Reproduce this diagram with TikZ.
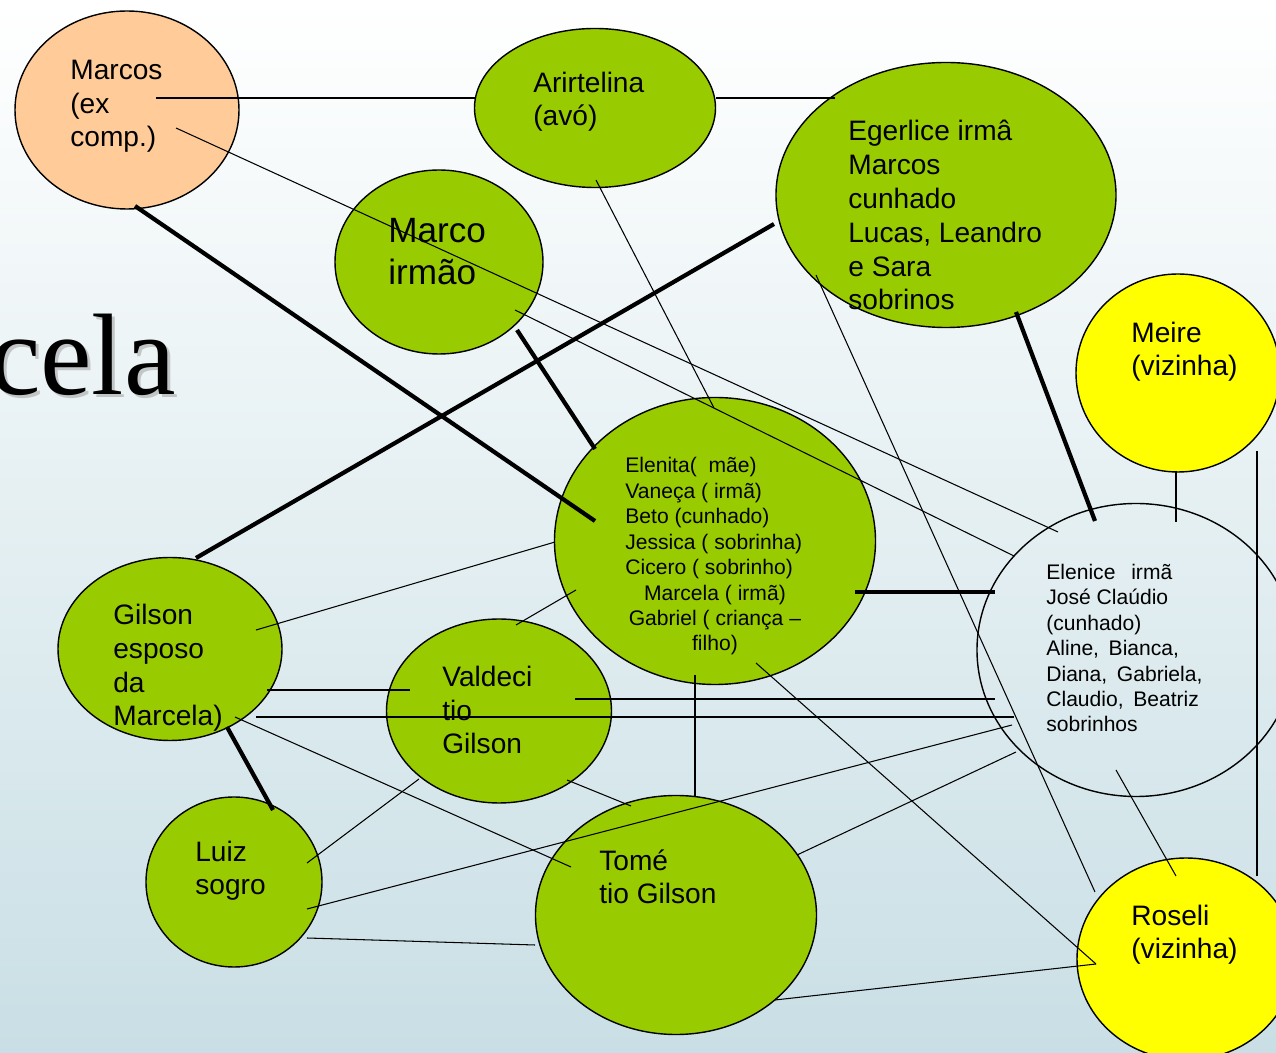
\documentclass[tikz,border=0pt]{standalone}
\usepackage{fontspec}
\setmainfont{Liberation Sans}
\newfontfamily\titlefont{Liberation Serif}
\usetikzlibrary{shapes.geometric, calc}
\definecolor{leafgreen}{HTML}{99CC00}
\definecolor{sunyellow}{HTML}{FFFF00}
\definecolor{peach}{HTML}{FFCC99}
\definecolor{slidebg}{RGB}{201,223,229}
\newcommand{\ctrline}[1]{\makebox[102pt][c]{#1}}

\begin{document}
\begin{tikzpicture}[x=0.02cm, y=-0.02cm,
			person/.style={ellipse, draw=black, line width=0.8pt, inner sep=0pt},
			dims/.style 2 args={minimum width=#1*0.02cm, minimum height=#2*0.02cm},
			txt/.style={anchor=base west, align=left, inner sep=0pt, font=\fontsize{16}{19.3}\selectfont},
			smalltxt/.style={txt, font=\fontsize{12}{14.5}\selectfont},
			link/.style={line width=0.6pt},
			tie/.style={line width=2.4pt}]
			\useasboundingbox (0,0) rectangle (1276,1053);
			\clip (0,0) rectangle (1276,1053);
			\shade[top color=white, bottom color=slidebg] (0,0) rectangle (1276,1053);
			\node[font=\titlefont\fontsize{66}{70}\selectfont, anchor=base east, inner sep=0pt, text=black!40, opacity=.5] (titleShadow) at (179,398) {cela};
			\node[font=\titlefont\fontsize{66}{70}\selectfont, anchor=base east, inner sep=0pt] (title) at (176,395) {cela};
			\node[person, dims={224}{198}, fill=peach] (marcos) at (127,110) {};
			\node[person, dims={241}{159}, fill=leafgreen] (arir) at (595,108) {};
			\node[person, dims={340}{265}, fill=leafgreen] (eger) at (946,195) {};
			\node[person, dims={208}{184}, fill=leafgreen] (marcoI) at (439,262) {};
			\node[person, dims={204}{198}, fill=sunyellow] (meire) at (1178,373) {};
			\node[person, dims={321}{287}, fill=leafgreen] (elenita) at (715,541) {};
			\node[person, dims={318}{293}] (elenice) at (1136,650) {};
			\node[person, dims={224}{183}, fill=leafgreen] (gilson) at (170,649) {};
			\node[person, dims={225}{184}, fill=leafgreen] (valdeci) at (499,711) {};
			\node[person, dims={176}{170}, fill=leafgreen] (luiz) at (234,882) {};
			\node[person, dims={281}{239}, fill=leafgreen] (tome) at (676,915) {};
			\node[person, dims={218}{202}, fill=sunyellow] (roseli) at (1186,959) {};
			\node[txt] (marcosTxt) at (70,147) {Marcos\\(ex\\comp.)};
			\node[txt] (arirTxt) at (533,126) {Arirtelina\\(avó)};
			\node[txt] (egerTxt) at (848,310) {Egerlice irmâ\\Marcos\\cunhado\\Lucas, Leandro\\e Sara\\sobrinos};
			\node[txt, font=\fontsize{20}{24.4}\selectfont] (marcoITxt) at (388,285) {Marco\\irmão};
			\node[txt] (meireTxt) at (1131,376) {Meire\\(vizinha)};
			\node[smalltxt] (elenitaTxt) at (625,651) {Elenita(\ \ mãe)\\Vaneça ( irmã)\\Beto (cunhado)\\Jessica ( sobrinha)\\Cicero ( sobrinho)\\\ctrline{Marcela ( irmã)}\\\ctrline{Gabriel ( criança –}\\\ctrline{filho)}};
			\node[smalltxt] (eleniceTxt) at (1046,732) {Elenice\hspace{9pt}irmã\\José Claúdio\\(cunhado)\\Aline,\hspace{5.5pt}Bianca,\\Diana,\hspace{5.5pt}Gabriela,\\Claudio,\hspace{5.5pt}Beatriz\\sobrinhos};
			\node[txt] (gilsonTxt) at (113,726) {Gilson\\esposo\\da\\Marcela)};
			\node[txt] (valdeciTxt) at (442,754) {Valdeci\\tio\\Gilson};
			\node[txt] (luizTxt) at (195,895) {Luiz\\sogro};
			\node[txt] (tomeTxt) at (599,904) {Tomé\\tio Gilson};
			\node[txt] (roseliTxt) at (1131,959) {Roseli\\(vizinha)};
			\draw[link] ($(marcos)+(29,-12)$) -- ($(arir)+(-120,-10)$);
			\draw[link] ($(arir)+(121,-10)$) -- ($(eger)+(-111,-97)$);
			\draw[link] ($(marcos)+(49,18)$) -- ($(elenice)+(-78,-118)$);
			\draw[tie] ($(marcos)+(8,96)$) -- ($(elenita)+(-120,-20)$);
			\draw[tie] ($(eger)+(-172,29)$) -- ($(gilson)+(26,-91)$);
			\draw[tie] ($(marcoI)+(78,68)$) -- ($(elenita)+(-120,-92)$);
			\draw[link] ($(marcoI)+(76,48)$) -- ($(elenice)+(-122,-94)$);
			\draw[link] ($(arir)+(1,72)$) -- ($(elenita)+(-1,-133)$);
			\draw[link] ($(eger)+(-130,80)$) -- ($(roseli)+(-91,-67)$);
			\draw[tie] ($(eger)+(70,117)$) -- ($(elenice)+(-41,-129)$);
			\draw[link] ($(meire)+(-2,98)$) -- ($(elenice)+(40,-128)$);
			\draw[link] ($(meire)+(79,78)$) -- ($(roseli)+(71,-83)$);
			\draw[tie] ($(elenita)+(140,51)$) -- ($(elenice)+(-141,-58)$);
			\draw[link] ($(elenita)+(41,122)$) -- ($(roseli)+(-90,5)$);
			\draw[link] ($(tome)+(99,85)$) -- ($(roseli)+(-90,5)$);
			\draw[link] ($(elenice)+(-20,120)$) -- ($(roseli)+(-10,-83)$);
			\draw[link] ($(gilson)+(86,-19)$) -- ($(elenita)+(-160,1)$);
			\draw[link] ($(valdeci)+(17,-86)$) -- ($(elenita)+(-139,49)$);
			\draw[link] ($(gilson)+(97,41)$) -- ($(valdeci)+(-89,-21)$);
			\draw[link] ($(valdeci)+(76,-12)$) -- ($(elenice)+(-141,49)$);
			\draw[link] ($(gilson)+(86,68)$) -- ($(elenice)+(-122,67)$);
			\draw[link] ($(gilson)+(65,68)$) -- ($(tome)+(-105,-48)$);
			\draw[tie] ($(gilson)+(57,78)$) -- ($(luiz)+(39,-72)$);
			\draw[link] ($(elenita)+(-20,134)$) -- ($(tome)+(19,-119)$);
			\draw[link] ($(valdeci)+(68,69)$) -- ($(tome)+(-45,-109)$);
			\draw[link] ($(luiz)+(73,-19)$) -- ($(valdeci)+(-80,68)$);
			\draw[link] ($(luiz)+(73,27)$) -- ($(elenice)+(-124,75)$);
			\draw[link] ($(luiz)+(73,56)$) -- ($(tome)+(-141,30)$);
			\draw[link] ($(tome)+(121,-60)$) -- ($(elenice)+(-120,102)$);
		\end{tikzpicture}
\end{document}
